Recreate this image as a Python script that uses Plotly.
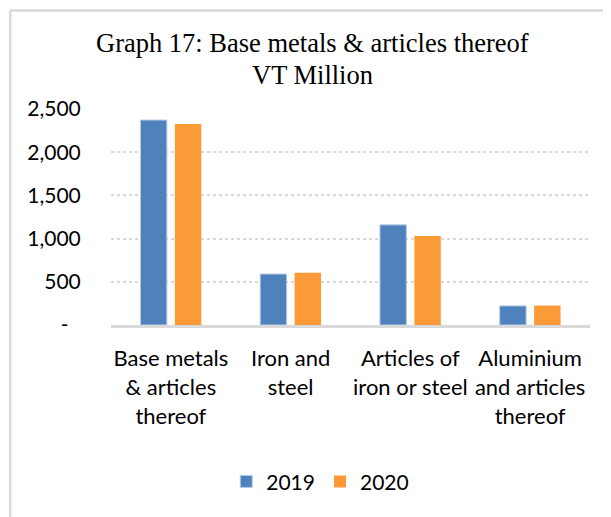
import plotly.graph_objects as go

categories = ["Base metals<br>& articles<br>thereof", "Iron and<br>steel",
              "Articles of<br>iron or steel", "Aluminium<br>and articles<br>thereof"]
values_2019 = [2372, 590, 1159, 221]
values_2020 = [2326, 605, 1031, 225]
y_tickvals = [0, 500, 1000, 1500, 2000, 2500]
y_ticktext = ["-\u2007", "500", "1,000", "1,500", "2,000", "2,500"]
title_lines = ["Graph 17: Base metals & articles thereof", "VT Million"]

# the page adds an 8px body margin; figure coords = page coords - 8
OFF = 8
W, H = 611, 517
L, R, T, B = 110.5 - OFF, W - (590.5 - OFF), 108.5 - OFF, H - (325.5 - OFF)
pw, ph = W - L - R, H - T - B

def px_x(p):
    return (p - OFF - L) / pw

def px_y(p):
    return (H - B - (p - OFF)) / ph

tick_font = dict(family="Lato", size=21, color="#000000")
xlab_font = dict(family="Lato", size=22, color="#000000")
title_font = dict(family="Liberation Serif", size=26.5, color="#000000")

fig = go.Figure()
fig.add_trace(go.Bar(name="2019", x=categories, y=values_2019,
                     marker=dict(color="#4F81BD", line=dict(color="#B7CCE8", width=1))))
fig.add_trace(go.Bar(name="2020", x=categories, y=values_2020,
                     marker=dict(color="#FD9A38", line=dict(width=0))))

annotations = [
    dict(text=title_lines[0], xref="paper", yref="paper", x=px_x(312.5), y=px_y(42.5),
         xanchor="center", yanchor="middle", showarrow=False, font=title_font),
    dict(text=title_lines[1], xref="paper", yref="paper", x=px_x(312.5), y=px_y(74),
         xanchor="center", yanchor="middle", showarrow=False, font=title_font),
]

# outer frame (only left and top edges fall inside the picture)
bx, by = px_x(OFF + 1.5), px_y(OFF + 1.5)
frame = [
    dict(type="line", xref="paper", yref="paper", x0=bx, x1=bx, y0=px_y(530), y1=by,
         line=dict(color="#D9D9D9", width=2.5)),
    dict(type="line", xref="paper", yref="paper", x0=bx, x1=px_x(640), y0=by, y1=by,
         line=dict(color="#D9D9D9", width=2.5)),
]

fig.update_layout(
    width=W, height=H,
    margin=dict(l=L, r=R, t=T, b=B, pad=0),
    paper_bgcolor="white", plot_bgcolor="white",
    barmode="group", bargap=0.425, bargroupgap=0.232,
    annotations=annotations,
    showlegend=True,
    legend=dict(orientation="h", x=px_x(226), xanchor="left",
                y=px_y(483), yanchor="middle", font=tick_font,
                traceorder="normal"),
    shapes=frame,
)
fig.update_xaxes(showgrid=False, showline=True, linecolor="#D9D9D9", linewidth=3,
                 ticks="outside", ticklen=12, tickcolor="rgba(0,0,0,0)",
                 tickfont=xlab_font, fixedrange=True)
fig.update_yaxes(range=[0, 2500], tickvals=y_tickvals, ticktext=y_ticktext,
                 showgrid=True, gridcolor="#D9D9D9", gridwidth=1.5, griddash="dot",
                 zeroline=False, showline=False,
                 ticks="outside", ticklen=25, tickcolor="rgba(0,0,0,0)",
                 tickfont=tick_font, fixedrange=True)

fig.write_html("out.html")
